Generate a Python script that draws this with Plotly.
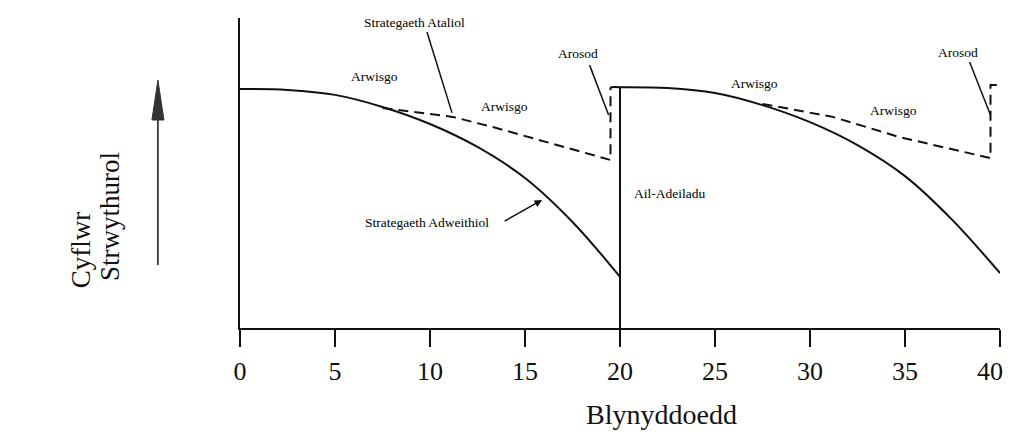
import plotly.graph_objects as go

# structural condition (0-100 scale)
years_c1 = [0, 2.5, 5, 7.5, 10, 12.5, 15, 17.5, 20]
state_c1 = [77.1, 76.8, 75.2, 71.3, 65.8, 58.4, 48.4, 34.2, 16.5]
years_c2 = [19.5, 20, 22.5, 25, 27.5, 30, 32.5, 35, 37.5, 40]
state_c2 = [77.7, 77.7, 77.4, 75.8, 71.9, 66.4, 59.0, 49.0, 34.8, 17.7]
# preventive strategy (dashed) branches
years_p1 = [7.5, 11.2, 13.5, 17.0, 19.5, 19.5]
state_p1 = [71.0, 68.1, 64.5, 58.4, 54.2, 77.7]
years_p2 = [27.5, 31.2, 34.7, 39.5, 39.5, 40.1]
state_p2 = [72.3, 68.1, 61.6, 54.8, 78.4, 78.4]
# rebuild
years_rb = [20, 20]
state_rb = [0, 77.7]

x_ticks = [0, 5, 10, 15, 20, 25, 30, 35, 40]
# last label sits at the page edge, so it is placed as its own annotation
x_tick_text = ["0", "5", "10", "15", "20", "25", "30", "35", ""]

SERIF = "Liberation Serif, Times New Roman, serif"
INK = "#111111"

fig = go.Figure()
for xs, ys in [(years_c1, state_c1), (years_c2, state_c2)]:
    fig.add_trace(go.Scatter(x=xs, y=ys, mode="lines", line_shape="spline",
                             line=dict(color=INK, width=2), cliponaxis=False))
for xs, ys in [(years_p1, state_p1), (years_p2, state_p2)]:
    fig.add_trace(go.Scatter(x=xs, y=ys, mode="lines",
                             line=dict(color=INK, width=2, dash="10px,6px"), cliponaxis=False))
fig.add_trace(go.Scatter(x=years_rb, y=state_rb, mode="lines",
                         line=dict(color=INK, width=2), cliponaxis=False))

lab = dict(family=SERIF, size=13.5, color="black")
notes = [
    ("Arwisgo", 7.1, 81.0), ("Arwisgo", 13.9, 71.3),
    ("Arwisgo", 27.1, 79.0), ("Arwisgo", 34.4, 70.3),
    ("Arosod", 17.8, 88.7), ("Arosod", 37.8, 89.0),
    ("Strategaeth Ataliol", 9.2, 98.7), ("Ail-Adeiladu", 22.6, 43.5),
    ("Strategaeth Adweithiol", 9.84, 33.9),
]
for txt, x, y in notes:
    fig.add_annotation(x=x, y=y, text=txt, showarrow=False, font=lab,
                       xanchor="center", yanchor="middle")

# leader lines
for x0, y0, x1, y1 in [(9.84, 95.5, 11.16, 69.4), (18.4, 84.8, 19.4, 68.7),
                       (38.4, 85.8, 39.5, 68.7)]:
    fig.add_shape(type="line", x0=x0, y0=y0, x1=x1, y1=y1,
                  line=dict(color=INK, width=1.5))

fig.add_annotation(x=15.9, y=41.3, text="", showarrow=True, arrowhead=2,
                   arrowsize=1, arrowwidth=1.5, arrowcolor=INK, ax=-39, ay=22)

# y-axis label with a long narrow arrow
big = dict(family=SERIF, size=27, color=INK)
fig.add_annotation(xref="paper", yref="paper", x=-0.21, y=0.252, text="Cyflwr",
                   textangle=-90, showarrow=False, font=big, xanchor="center", yanchor="middle")
fig.add_annotation(xref="paper", yref="paper", x=-0.171, y=0.358, text="Strwythurol",
                   textangle=-90, showarrow=False, font=big, xanchor="center", yanchor="middle")
fig.add_shape(type="line", xref="paper", yref="paper", x0=-0.108, x1=-0.108,
              y0=0.203, y1=0.68, line=dict(color=INK, width=1.5))
fig.add_shape(type="path", xref="paper", yref="paper",
              path="M -0.108 0.80 L -0.1159 0.671 L -0.1001 0.671 Z",
              fillcolor="#333333", line=dict(color="#333333", width=1))

fig.add_annotation(xref="x", yref="paper", x=39.45, y=-0.139, text="40",
                   showarrow=False, font=dict(family=SERIF, size=26, color=INK),
                   xanchor="center", yanchor="middle")
fig.add_annotation(xref="x", yref="paper", x=22.2, y=-0.28, text="Blynyddoedd",
                   showarrow=False, font=dict(family=SERIF, size=28, color=INK),
                   xanchor="center", yanchor="middle")

# page body has an 8px margin, so the margins are shifted to keep the plot area in place
fig.update_layout(
    width=1011, height=444,
    margin=dict(l=232, r=19, t=10, b=124),
    paper_bgcolor="white", plot_bgcolor="white",
    showlegend=False,
    xaxis=dict(range=[0, 40], tickvals=x_ticks, ticktext=x_tick_text, ticks="outside",
               ticklen=17, tickwidth=1.5, tickcolor=INK, showline=True, linecolor=INK,
               linewidth=1.5, showgrid=False, zeroline=False, automargin=False,
               tickfont=dict(family=SERIF, size=26, color=INK), ticklabelstandoff=2),
    yaxis=dict(range=[0, 100], showline=True, linecolor=INK, linewidth=1.5,
               showticklabels=False, ticks="", showgrid=False, zeroline=False,
               automargin=False),
)

fig.write_html("out.html")
